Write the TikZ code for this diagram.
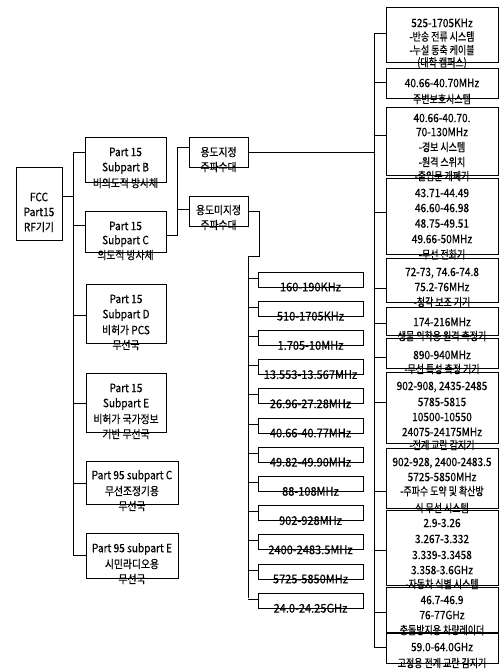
\documentclass[tikz,border=0pt]{standalone}
\usepackage{fontspec}
\setmainfont{Noto Sans CJK KR}[FakeStretch=0.88, FakeBold=0.4]
\newfontfamily\kr{Noto Sans CJK KR}[FakeStretch=0.85, FakeBold=0.4]
\newfontfamily\krr{Noto Sans CJK KR}[FakeStretch=0.78, FakeBold=0.4]
\newfontfamily\fqf{Noto Sans CJK KR}[FakeStretch=0.92, FakeBold=0.4]
\usetikzlibrary{fit}
\tikzset{
  bx/.style={draw, line width=0.9pt, inner sep=0pt, rectangle},
  tx/.style={inner sep=0pt, font=\fontsize{11.5}{13}\selectfont, anchor=center},
  ln/.style={line width=0.9pt}
}
\newcommand\bxat[5]{\node[bx, fit={(#2,#3)(#4,#5)}] (#1) {};}
\newcommand\txl[3]{\foreach \myy/\mytxt [count=\i] in {#3} {\node[tx] (#1-\i) at (#2,\myy) {\mytxt};}}
\begin{document}
\begin{tikzpicture}[x=1pt,y=-1pt]
\useasboundingbox (0,0) rectangle (501,670);
% left column
\bxat{fcc}{16}{167}{62}{240}
\txl{fcct}{39}{197/FCC, 212/Part15, 227/RF{\kr 기기}}
\bxat{pb}{85}{137}{166}{182}
\txl{pbt}{125.5}{152/Part 15, 168/Subpart B, 183/{\kr 비의도적 방사체}}
\bxat{pc}{85}{211}{166}{252}
\txl{pct}{125.5}{226/Part 15, 241/Subpart C, 255/{\kr 의도적 방사체}}
\bxat{pd}{86}{284}{166}{343}
\txl{pdt}{126}{299/Part 15, 315/Subpart D, 330/{\kr 비허가} PCS, 345/{\kr 무선국}}
\bxat{pe}{86}{373}{166}{432}
\txl{pet}{126}{388/Part 15, 404/Subpart E, 419/{\kr 비허가 국가정보}, 434/{\kr 기반 무선국}}
\bxat{qc}{86}{461}{178}{504}
\txl{qct}{132}{476/Part 95 subpart C, 491/{\kr 무선조정기용}, 506/{\kr 무선국}}
\bxat{qe}{86}{533}{178}{578}
\txl{qet}{132}{549/Part 95 subpart E, 564/{\kr 시민라디오용}, 579/{\kr 무선국}}
% left bus
\coordinate (lbt) at (73,152);
\coordinate (lbb) at (73,555);
\coordinate (lbf) at (73,196);
\draw[ln] (lbt) -- (lbb);
\draw[ln] (fcc.east |- lbf) -- (lbf);
\draw[ln] (lbt) -- (pb.west |- lbt);
\coordinate (lbc) at (73,225); \draw[ln] (lbc) -- (pc.west |- lbc);
\coordinate (lbd) at (73,315); \draw[ln] (lbd) -- (pd.west |- lbd);
\coordinate (lbe) at (73,403); \draw[ln] (lbe) -- (pe.west |- lbe);
\coordinate (lbq) at (73,483); \draw[ln] (lbq) -- (qc.west |- lbq);
\draw[ln] (lbb) -- (qe.west |- lbb);
% middle
\bxat{ja}{189}{137}{248}{167}
\txl{jat}{218.5}{152/{\kr 용도지정}, 167/{\kr 주파수대}}
\bxat{jb}{189}{196}{248}{226}
\txl{jbt}{218.5}{210/{\kr 용도미지정}, 225/{\kr 주파수대}}
\coordinate (mbt) at (177,147);
\coordinate (mbb) at (177,235);
\coordinate (mbj) at (177,209);
\draw[ln] (pc.east |- mbb) -- (mbb) -- (mbt) -- (ja.west |- mbt);
\draw[ln] (mbj) -- (jb.west |- mbj);
% right bus
\coordinate (rbt) at (374,33);
\coordinate (rbb) at (374,647);
\draw[ln] (rbt) -- (rbb);
\coordinate (rbj) at (374,152);
\draw[ln] (ja.east) -- (rbj);
% frequency bus
\coordinate (fa) at (259,211);
\coordinate (fb) at (259,256);
\coordinate (fbt) at (248,256);
\coordinate (fbb) at (248,598);
\draw[ln] (jb.east |- fa) -- (fa) -- (fb) -- (fbt) -- (fbb);
\foreach \t [count=\i] in {160-190KHz, 510-1705KHz, 1.705-10MHz, 13.553-13.567MHz, 26.96-27.28MHz, 40.66-40.77MHz, 49.82-49.90MHz, 88-108MHz, 902-928MHz, 2400-2483.5MHz, 5725-5850MHz, 24.0-24.25GHz}{
  \pgfmathsetmacro\tp{272+(\i-1)*29.2}
  \node[bx, fit={(258,\tp)(363,\tp+15)}] (fq\i) {};
  \node[tx, font=\fqf\fontsize{12}{13}\selectfont] (fq\i t) at (310.5,\tp+15) {\t};
  \coordinate (fc\i) at (248,\tp+6);
  \draw[ln] (fc\i) -- (fq\i.west |- fc\i);
}
% right column
\bxat{ra}{386}{7}{498}{62}
\txl{rat}{442}{23/525-1705KHz, 36.5/{\krr -반송 전류 시스템}, 50/{\krr -누설 동축 케이블}, 63/{\krr (대학 캠퍼스)}}
\bxat{rb}{386}{68}{498}{98}
\txl{rbt}{442}{83/40.66-40.70MHz, 99/{\krr 주변보호시스템}}
\bxat{rc}{386}{107}{498}{175}
\txl{rct}{442}{118/40.66-40.70., 132/70-130MHz, 147/{\krr -경보 시스템}, 162/{\krr -원격 스위치}, 176/{\krr -출입문 개폐기}}
\bxat{rd}{386}{178}{498}{254}
\txl{rdt}{442}{193/43.71-44.49, 208/46.60-46.98, 223.5/48.75-49.51, 239/49.66-50MHz, 254.5/{\krr -무선 전화기}}
\bxat{re}{386}{258}{498}{302}
\txl{ret}{442}{273/{72-73, 74.6-74.8}, 287/75.2-76MHz, 302/{\krr -청각 보조 기기}}
\bxat{rf}{386}{307}{498}{335}
\txl{rft}{442}{322/174-216MHz, 336/{\krr 생물 의학용 원격 측정기}}
\bxat{rg}{386}{338}{498}{368}
\txl{rgt}{442}{355/890-940MHz, 369/{\krr -무선 특성 측정 기기}}
\bxat{rh}{386}{372}{498}{443}
\txl{rht}{442}{387/{902-908, 2435-2485}, 402/5785-5815, 417/10500-10550, 432/24075-24175MHz, 445/{\krr -전계 교란 감지기}}
\bxat{ri}{386}{448}{498}{508}
\txl{rit}{442}{463/{902-928, 2400-2483.5}, 477/5725-5850MHz, 491/{\krr -주파수 도약 및 확산방}, 508/{\krr 식 무선 시스템}}
\bxat{rj}{386}{510}{498}{585}
\txl{rjt}{442}{523/2.9-3.26, 539/3.267-3.332, 555/3.339-3.3458, 570/3.358-3.6GHz, 584/{\krr -자동차 식별 시스템}}
\bxat{rk}{386}{587}{498}{632}
\txl{rkt}{442}{600/46.7-46.9, 615/76-77GHz, 630/{\krr 충돌방지용 차량레이더}}
\bxat{rl}{386}{633}{498}{663}
\txl{rlt}{442}{647/59.0-64.0GHz, 663/{\krr 고정용 전계 교란 감지기}}
\foreach \n/\yy in {ra/33, rb/82, rc/135, rd/212, re/288, rf/323, rg/357, rh/402, ri/491, rj/550, rk/612, rl/647}{
  \coordinate (rc\n) at (374,\yy);
  \draw[ln] (rc\n) -- (\n.west |- rc\n);
}
\end{tikzpicture}
\end{document}
